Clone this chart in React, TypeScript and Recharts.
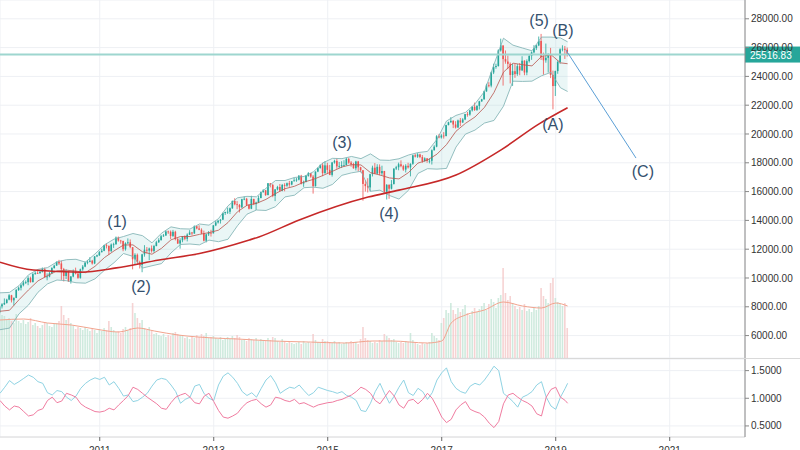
import React from "react";
import {
  ComposedChart,
  Bar,
  Line,
  Area,
  XAxis,
  YAxis,
  CartesianGrid,
  ReferenceLine,
  ReferenceDot,
} from "recharts";

// semi-monthly candles, Apr 2009 .. Mar 2019 (index 0..239)
const FIRST_OPEN = 7610;
const CLOSE = [
  8030, 8170, 8270, 8500, 8800, 8450, 8620, 9170, 9320, 9500, 9680, 9710, 9990, 9710, 10270, 10340, 10330, 10430,
  10610, 10070, 10100, 10330, 10690, 10860, 11120, 11010, 10620, 10140, 10450, 9770, 10100, 10470, 10300, 10010, 10600, 10790, 11060, 11120, 11200, 11010, 11500, 11580,
  11790, 11890, 12270, 12230, 11860, 12320, 12340, 12810, 12600, 12570, 12000, 12410, 12480, 12140, 11300, 11610, 11100, 10910, 11640, 11960, 11900, 12050, 11870, 12220,
  12480, 12630, 12900, 12950, 13230, 13210, 12920, 13210, 12700, 12390, 12620, 12880, 12720, 13010, 13160, 13090, 13590, 13440, 13350, 13100, 12590, 13030, 13140, 13100,
  13650, 13860, 13980, 14050, 14510, 14580, 14600, 14840, 15350, 15120, 15070, 14910, 15470, 15500, 15080, 14810, 15490, 15130, 15240, 15550, 15960, 16090, 15760, 16580,
  16460, 15700, 16150, 16320, 16070, 16460, 16410, 16580, 16490, 16720, 16780, 16830, 17100, 16560, 16660, 17100, 17280, 17040, 16380, 17390, 17630, 17830, 17280, 17820,
  17510, 17160, 18020, 18130, 17750, 17780, 17830, 17840, 18270, 18010, 17900, 17620, 18090, 17690, 17480, 16530, 16380, 16290, 17210, 17660, 17250, 17720, 17270, 17430,
  15990, 16470, 16200, 16520, 17600, 17690, 17900, 17770, 17530, 17790, 17680, 17930, 18520, 18430, 18580, 18400, 18120, 18310, 18140, 18140, 18870, 19120, 19840, 19760,
  19890, 19860, 20620, 20810, 20910, 20660, 20450, 20940, 20800, 21010, 21380, 21350, 21640, 21890, 21670, 21950, 22270, 22410, 22960, 23380, 23360, 24270, 24650, 24720,
  25800, 26150, 25200, 25030, 24870, 24100, 24360, 24160, 24710, 24420, 25090, 24270, 25060, 25420, 25670, 25960, 26150, 26460, 25340, 25120, 25290, 25540, 24100, 23330,
  24370, 25000, 25880, 25920, 25850, 25516.83,
];
const HIGH = [
  8100, 8250, 8580, 8560, 8880, 8830, 8650, 9230, 9400, 9620, 9830, 9830, 10120, 10090, 10340, 10460, 10480, 10550,
  10730, 10720, 10320, 10420, 10750, 10920, 11150, 11260, 11200, 10700, 10600, 10500, 10140, 10590, 10720, 10380, 10650, 10900, 11150, 11250, 11450, 11260, 11520, 11620,
  11870, 12030, 12300, 12400, 12260, 12400, 12450, 12880, 12880, 12650, 12590, 12480, 12750, 12680, 12150, 11720, 11700, 11200, 11680, 12280, 12150, 12110, 12260, 12300,
  12580, 12760, 12990, 13050, 13300, 13290, 13300, 13340, 13280, 12790, 12760, 12910, 12960, 13100, 13320, 13200, 13650, 13610, 13660, 13450, 13290, 13070, 13260, 13350,
  13680, 13970, 14020, 14090, 14540, 14600, 14890, 14890, 15380, 15540, 15340, 15140, 15500, 15660, 15560, 15100, 15710, 15500, 15300, 15710, 16000, 16170, 16100, 16590,
  16590, 16530, 16180, 16400, 16530, 16530, 16580, 16630, 16740, 16740, 16970, 16960, 17150, 17160, 16760, 17150, 17350, 17290, 17150, 17400, 17680, 17890, 17990, 18100,
  18000, 17850, 18060, 18210, 18290, 18060, 18110, 18180, 18350, 18350, 18120, 18000, 18140, 18130, 17720, 17500, 16780, 16930, 17240, 17800, 17980, 17900, 17890, 17800,
  17440, 16520, 16500, 16800, 17610, 17790, 18010, 18170, 17860, 17900, 18000, 17960, 18560, 18620, 18670, 18630, 18540, 18380, 18320, 18300, 18930, 19220, 19920, 19990,
  19990, 20130, 20640, 20850, 21170, 20960, 20890, 21000, 21110, 21100, 21390, 21530, 21680, 21930, 22180, 22000, 22300, 22440, 23010, 23490, 23600, 24330, 24880, 24880,
  25880, 26620, 26150, 25800, 25450, 24970, 24860, 24860, 24860, 24930, 25400, 25120, 25180, 25520, 25730, 26170, 26200, 26770, 26950, 25650, 26280, 25600, 25980, 24400,
  24400, 25100, 25950, 26160, 26110, 26000,
];
const LOW = [
  7550, 7880, 8120, 8220, 8450, 8300, 8090, 8600, 9100, 9140, 9420, 9580, 9500, 9680, 9700, 10230, 10280, 10300,
  10380, 10030, 9840, 10050, 10300, 10650, 10850, 10900, 9870, 9760, 9930, 9730, 9610, 10050, 10250, 9940, 9950, 10500, 10750, 10950, 11090, 10930, 10960, 11450,
  11530, 11780, 11860, 12050, 11610, 11820, 12090, 12320, 12520, 12380, 11860, 11900, 12350, 12060, 10600, 10910, 10930, 10660, 10400, 11480, 11700, 11230, 11760, 11760,
  12200, 12440, 12600, 12860, 12930, 13060, 12710, 12840, 12610, 12370, 12040, 12480, 12620, 12540, 12990, 12970, 13070, 13380, 13320, 13050, 12540, 12470, 12920, 12880,
  13100, 13600, 13780, 13780, 14040, 14380, 14450, 14440, 14800, 15050, 14780, 14550, 14860, 15400, 15000, 14760, 14780, 15060, 14720, 15200, 15540, 15930, 15700, 15740,
  16290, 15610, 15340, 16080, 16020, 16020, 16020, 16330, 16330, 16440, 16700, 16680, 16780, 16500, 16330, 16650, 17040, 16960, 15860, 16350, 17350, 17600, 17070, 17240,
  17260, 17140, 17040, 17940, 17580, 17630, 17640, 17750, 17820, 17930, 17730, 17590, 17470, 17400, 17330, 15370, 16000, 15940, 16010, 17050, 17210, 17200, 17140, 17130,
  15840, 15450, 15500, 16150, 16500, 17500, 17480, 17690, 17440, 17330, 17600, 17060, 17860, 18370, 18340, 18320, 18000, 18080, 18000, 17960, 17880, 18850, 19080, 19700,
  19680, 19680, 19830, 20600, 20780, 20410, 20380, 20430, 20550, 20770, 20960, 21200, 21270, 21560, 21600, 21600, 21700, 22230, 22380, 22930, 23240, 23240, 24160, 24530,
  24680, 25720, 23360, 24880, 24500, 23510, 23340, 23900, 24040, 24080, 24370, 24080, 24080, 24960, 25150, 25600, 25830, 26100, 25140, 24120, 24950, 24270, 23880, 21710,
  22640, 24180, 24880, 25740, 25210, 25380,
];
const VOLUME = [
  92, 86, 84, 78, 80, 74, 70, 88, 74, 70, 76, 68, 72, 80, 66, 70, 64, 60,
  66, 72, 70, 64, 62, 68, 70, 74, 104, 86, 76, 80, 70, 64, 58, 62, 60, 56, 62, 58, 54, 60, 56, 50,
  58, 54, 60, 56, 74, 62, 56, 52, 54, 50, 58, 62, 56, 60, 110, 90, 80, 70, 76, 60, 56, 62, 54, 48,
  50, 46, 44, 48, 42, 46, 44, 50, 52, 48, 46, 44, 40, 42, 38, 44, 40, 46, 42, 48, 44, 50, 40, 42,
  44, 40, 38, 42, 36, 40, 42, 38, 44, 40, 46, 42, 36, 38, 34, 40, 38, 36, 40, 34, 38, 36, 34, 40,
  36, 42, 40, 34, 32, 38, 34, 30, 32, 30, 28, 30, 32, 28, 34, 30, 32, 30, 48, 36, 32, 30, 38, 34,
  34, 32, 30, 34, 30, 32, 28, 30, 32, 30, 34, 30, 32, 28, 38, 62, 40, 36, 34, 30, 32, 30, 36, 34,
  48, 44, 40, 36, 38, 32, 30, 32, 30, 34, 32, 50, 36, 30, 28, 26, 30, 28, 30, 32, 50, 44, 40, 36,
  70, 80, 96, 90, 110, 96, 88, 100, 92, 98, 106, 90, 86, 94, 100, 92, 98, 104, 110, 96, 108, 118, 112, 100,
  120, 126, 180, 130, 116, 124, 110, 104, 98, 102, 96, 108, 94, 98, 92, 100, 96, 104, 140, 124, 118, 110, 150, 160,
  120, 112, 108, 104, 110, 60,
];

// bollinger bands, read every 4th candle (+ last)
const BB_STEP = 4;
const BB_MID = [
  7690, 7760, 8490, 9170, 9800, 10160, 10490, 10540, 10480, 10370, 10810, 11420, 11880, 12290, 12300, 11820, 11650, 12060, 12650, 12880,
  12880, 13030, 13150, 13320, 13850, 14600, 15050, 15180, 15460, 15860, 16200, 16370, 16660, 16850, 17120, 17410, 17710, 17870, 17850, 17320,
  17150, 16950, 16880, 17320, 17980, 18190, 18600, 19260, 20190, 20740, 21180, 21850, 22880, 24290, 24920, 24810, 24730, 25380, 25510, 24940, 24880,
];
const BB_UP = [
  8970, 9000, 9470, 10220, 10600, 10720, 11120, 11270, 11300, 11100, 11670, 12300, 12700, 12880, 13090, 12940, 12440, 13110, 13550, 13420,
  13400, 13750, 13670, 14120, 15010, 15570, 15670, 15640, 16230, 16770, 16770, 16980, 17050, 17380, 18000, 18310, 18290, 18440, 18290, 18620,
  18190, 18170, 18280, 18540, 18710, 18790, 19630, 20900, 21290, 21500, 22090, 22950, 24830, 26650, 26170, 25970, 25780, 26730, 26730, 26670, 26400,
];
const BB_LO = [
  6410, 6520, 7510, 8120, 9010, 9590, 9860, 9810, 9670, 9640, 9940, 10540, 11060, 11700, 11500, 10690, 10850, 11000, 11740, 12330,
  12360, 12300, 12630, 12520, 12690, 13630, 14430, 14720, 14690, 14950, 15630, 15750, 16270, 16310, 16230, 16500, 17130, 17300, 17410, 16020,
  16100, 15730, 15480, 16090, 17260, 17590, 17560, 17610, 19090, 19990, 20270, 20760, 20940, 21930, 23670, 23650, 23670, 24040, 24280, 23210, 22950,
];

// long moving average (red)
const SMA_IDX = [0, 14, 34, 49, 67, 84, 105, 109, 126, 155, 168, 192, 211, 227, 239];
const SMA_VAL = [11100, 10550, 10400, 10700, 11250, 11700, 12640, 12850, 14030, 15620, 16100, 17150, 18900, 20700, 21820];

// volume moving average (orange)
const VOL_MA_IDX = [0, 10, 20, 30, 40, 50, 58, 65, 75, 90, 100, 115, 130, 145, 157, 165, 180, 186, 190, 196, 204, 212, 220, 228, 234, 239];
const VOL_MA_VAL = [76, 78, 70, 66, 58, 52, 60, 54, 46, 40, 38, 34, 32, 30, 34, 34, 30, 34, 70, 86, 96, 112, 104, 100, 110, 104];

// vortex indicator, every 2nd candle (+ last)
const VI_STEP = 2;
const VI_PLUS = [
  1.09, 1.2, 1.32, 1.25, 1.3, 1.36, 1.42, 1.38, 1.3, 1.27, 1.1, 1.06,
  1.14, 1.12, 1.02, 0.96, 1.04, 1.18, 1.27, 1.33, 1.37, 1.34, 1.38, 1.24,
  1.3, 1.18, 1.04, 1.06, 0.94, 0.96, 1.02, 1.09, 1.22, 1.33, 1.36, 1.34,
  1.24, 1.12, 0.91, 0.98, 1.02, 1.22, 1.25, 1.08, 1.0, 0.96, 1.24, 1.4,
  1.46, 1.38, 1.27, 1.12, 1.05, 1.1, 1.02, 1.18, 1.33, 1.41, 1.28, 1.09,
  1.15, 1.2, 1.18, 1.24, 1.14, 1.05, 1.1, 1.2, 1.17, 1.14, 1.12, 1.09,
  1.12, 1.05, 1.02, 0.96, 0.78, 0.76, 0.91, 1.12, 1.27, 1.08, 0.91, 1.04,
  1.2, 1.33, 1.1, 1.05, 1.18, 1.12, 0.98, 1.1, 1.33, 1.46, 1.55, 1.3,
  1.18, 1.12, 1.09, 1.22, 1.27, 1.24, 1.33, 1.45, 1.58, 1.5, 1.09, 1.02,
  0.94, 0.84, 1.02, 1.06, 1.12, 1.24, 1.3, 1.02, 0.86, 0.8, 1.02, 1.18,
  1.27,
];
const VI_MINUS = [
  0.96, 0.86, 0.79, 0.86, 0.84, 0.76, 0.68, 0.7, 0.78, 0.81, 0.96, 1.02,
  0.92, 0.95, 1.09, 1.06, 1.02, 0.9, 0.84, 0.8, 0.76, 0.75, 0.77, 0.82,
  0.79, 0.88, 0.96, 1.05, 1.2, 1.16, 1.09, 1.02, 0.96, 0.9, 0.82, 0.8,
  0.92, 1.02, 1.06, 1.09, 1.02, 0.92, 0.9, 1.04, 1.09, 0.94, 0.78, 0.66,
  0.64, 0.68, 0.73, 0.84, 0.92, 0.96, 0.98, 0.9, 0.84, 0.88, 1.02, 1.0,
  0.96, 0.94, 0.98, 0.9, 0.92, 0.88, 0.84, 0.88, 0.9, 0.92, 0.93, 0.96,
  0.98, 1.02, 1.06, 1.12, 1.2, 1.16, 1.09, 0.96, 0.9, 1.02, 1.14, 1.04,
  0.88, 0.82, 0.96, 0.98, 0.9, 0.98, 1.09, 1.0, 0.84, 0.66, 0.56, 0.62,
  0.79, 0.88, 0.94, 0.8, 0.76, 0.73, 0.66, 0.55, 0.47, 0.58, 0.9, 1.06,
  1.09, 1.02, 0.96, 0.92, 0.86, 0.72, 0.68, 1.02, 1.16, 1.2, 1.02, 0.96,
  0.91,
];

// axes
const X_MAX = 313.7;
const YEAR_TICKS = [42, 90, 138, 186, 234, 282];
const YEAR_LABELS = ["2011", "2013", "2015", "2017", "2019", "2021"];
const PRICE_TICKS = [6000, 8000, 10000, 12000, 14000, 16000, 18000, 20000, 22000, 24000, 26000, 28000];
const LAST_PRICE = 25516.83;

// elliott wave annotations
const WAVE_TEXT = ["(1)", "(2)", "(3)", "(4)", "(5)", "(B)", "(A)", "(C)"];
const WAVE_I = [49.3, 59.4, 144, 163.8, 227, 237, 232.8, 270.7];
const WAVE_PRICE = [13890, 9375, 19375, 14445, 27915, 27220, 20690, 17430];
const PROJ_I = [238.3, 267.8];
const PROJ_PRICE = [25830, 18330];

const UP = "#26a69a";
const DOWN = "#ef5350";
const FONT = "'Liberation Sans', Arial, sans-serif";

const last = CLOSE.length - 1;
const candles = CLOSE.map((c, i) => {
  const o = i === 0 ? FIRST_OPEN : CLOSE[i - 1];
  return { i, o, c, h: HIGH[i], l: LOW[i], hl: [LOW[i], HIGH[i]], v: VOLUME[i], up: c >= o };
});
const bands = BB_MID.map((m, k) => ({
  i: Math.min(k * BB_STEP, last),
  mid: m,
  up: BB_UP[k],
  lo: BB_LO[k],
  range: [BB_LO[k], BB_UP[k]],
}));
const sma = SMA_IDX.map((i, k) => ({ i, v: SMA_VAL[k] }));
const volMa = VOL_MA_IDX.map((i, k) => ({ i, v: VOL_MA_VAL[k] }));
const vortex = VI_PLUS.map((p, k) => ({ i: Math.min(k * VI_STEP, last), p, m: VI_MINUS[k] }));

const Candle = (props: any) => {
  const { x, y, width, height } = props;
  const d = props.payload || props;
  const color = d.c >= d.o ? UP : DOWN;
  const top = Math.min(y, y + height);
  const h = Math.abs(height);
  const span = d.h - d.l || 1;
  const yO = top + ((d.h - d.o) / span) * h;
  const yC = top + ((d.h - d.c) / span) * h;
  const cx = x + width / 2;
  return (
    <g>
      <line x1={cx} x2={cx} y1={top} y2={top + h} stroke={color} strokeWidth={0.8} />
      <rect x={x} y={Math.min(yO, yC)} width={width} height={Math.max(0.8, Math.abs(yO - yC))} fill={color} />
    </g>
  );
};

const VolBar = (props: any) => {
  const { x, y, width, height } = props;
  const d = props.payload || props;
  return (
    <rect
      x={x}
      y={Math.min(y, y + height)}
      width={width}
      height={Math.abs(height)}
      fill={d.up ? "#bfe3d3" : "#f3c4c4"}
      fillOpacity={0.75}
    />
  );
};

const PriceTag = ({ viewBox }: any) => {
  const { x, y, width } = viewBox;
  return (
    <g>
      <rect x={x + width} y={y - 8} width={55} height={16} fill="#26a69a" />
      <text x={x + width + 5} y={y + 4} fill="#fff" fontSize={10} fontFamily={FONT}>
        {LAST_PRICE.toFixed(2)}
      </text>
    </g>
  );
};

const tickStyle = { fontSize: 10, fill: "#333", fontFamily: FONT };
const plain = { dot: false, activeDot: false, isAnimationActive: false, legendType: "none" as const };

export default function App() {
  return (
    <div style={{ position: "absolute", left: 0, top: 0, width: 800, height: 450, background: "#fff", fontFamily: FONT }}>
      <ComposedChart width={800} height={358} data={candles} margin={{ top: 0, right: 0, bottom: 0, left: 0 }}>
        <XAxis xAxisId="c" dataKey="i" type="number" domain={[0, X_MAX]} ticks={YEAR_TICKS} hide allowDataOverflow />
        <XAxis xAxisId="v" dataKey="i" type="number" domain={[0, X_MAX]} hide allowDataOverflow />
        <YAxis
          yAxisId="p"
          orientation="right"
          width={55}
          domain={[4444, 29305]}
          ticks={PRICE_TICKS}
          tickFormatter={(v: number) => v.toFixed(2)}
          tick={tickStyle}
          tickSize={4}
          tickLine={{ stroke: "#888" }}
          axisLine={{ stroke: "#888" }}
          allowDataOverflow
        />
        <YAxis yAxisId="vol" hide domain={[0, 716]} allowDataOverflow />
        <CartesianGrid xAxisId="c" yAxisId="p" stroke="#eef0f4" />

        <Bar xAxisId="v" yAxisId="vol" dataKey="v" barSize={1.6} shape={(p: any) => <VolBar {...p} />} isAnimationActive={false} />
        <Line xAxisId="v" yAxisId="vol" data={volMa} dataKey="v" type="monotone" stroke="#f2a48e" strokeWidth={1} {...plain} />

        <Area xAxisId="c" yAxisId="p" data={bands} dataKey="range" type="linear" stroke="none" fill="#9fd8d8" fillOpacity={0.22} {...plain} />
        <Line xAxisId="c" yAxisId="p" data={bands} dataKey="up" type="linear" stroke="#7aaeb0" strokeWidth={0.8} {...plain} />
        <Line xAxisId="c" yAxisId="p" data={bands} dataKey="lo" type="linear" stroke="#7aaeb0" strokeWidth={0.8} {...plain} />
        <Line xAxisId="c" yAxisId="p" data={bands} dataKey="mid" type="linear" stroke="#b8544c" strokeWidth={0.8} {...plain} />
        <Line xAxisId="c" yAxisId="p" data={sma} dataKey="v" type="monotone" stroke="#c62828" strokeWidth={1.6} {...plain} />

        <ReferenceLine xAxisId="c" yAxisId="p" y={LAST_PRICE} stroke="#9ed6cf" strokeWidth={2} label={<PriceTag />} />

        <Bar xAxisId="c" yAxisId="p" dataKey="hl" barSize={1.6} shape={(p: any) => <Candle {...p} />} isAnimationActive={false} />

        <ReferenceLine
          xAxisId="c"
          yAxisId="p"
          segment={[
            { x: PROJ_I[0], y: PROJ_PRICE[0] },
            { x: PROJ_I[1], y: PROJ_PRICE[1] },
          ]}
          stroke="#5b9fd6"
          strokeWidth={1}
        />
        {WAVE_TEXT.map((t, k) => (
          <ReferenceDot
            key={t}
            xAxisId="c"
            yAxisId="p"
            x={WAVE_I[k]}
            y={WAVE_PRICE[k]}
            r={0}
            shape={(p: any) => (
              <text x={p.cx} y={p.cy} textAnchor="middle" dominantBaseline="central" fontSize={16} fill="#34506e" fontFamily={FONT}>
                {t}
              </text>
            )}
          />
        ))}
      </ComposedChart>

      <div style={{ borderTop: "1px solid #d9d9d9", height: 91 }}>
        <ComposedChart width={800} height={91} data={vortex} margin={{ top: 0, right: 0, bottom: 0, left: 0 }}>
          <XAxis
            dataKey="i"
            type="number"
            domain={[0, X_MAX]}
            ticks={YEAR_TICKS}
            interval={0}
            tickFormatter={(v: number) => YEAR_LABELS[YEAR_TICKS.indexOf(v)]}
            height={13}
            tickSize={4}
            tickMargin={6}
            tick={tickStyle}
            tickLine={{ stroke: "#666" }}
            axisLine={{ stroke: "#dcdcdc" }}
            allowDataOverflow
          />
          <YAxis
            orientation="right"
            width={55}
            domain={[0.3, 1.71]}
            ticks={[0.5, 1, 1.5]}
            tickFormatter={(v: number) => v.toFixed(4)}
            tick={tickStyle}
            tickSize={4}
            tickLine={{ stroke: "#888" }}
            axisLine={{ stroke: "#888" }}
            allowDataOverflow
          />
          <CartesianGrid stroke="#eef0f4" />
          <Line dataKey="p" type="linear" stroke="#8fd3e3" strokeWidth={1} {...plain} />
          <Line dataKey="m" type="linear" stroke="#f07ca0" strokeWidth={1} {...plain} />
        </ComposedChart>
      </div>
    </div>
  );
}
